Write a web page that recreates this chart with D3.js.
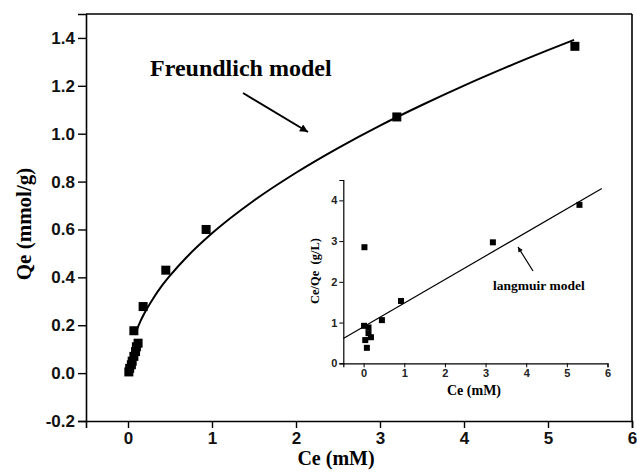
<!DOCTYPE html>
<html><head><meta charset="utf-8">
<script src="https://cdn.jsdelivr.net/npm/d3@7"></script>
<style>body{margin:0;background:#fff}svg{display:block}</style>
</head><body>
<script>
// ---- data ----
const ceMain = [0.01,0.02,0.04,0.05,0.07,0.09,0.10,0.12,0.07,0.18,0.45,0.93,3.20,5.32];
const qeMain = [0.005,0.02,0.035,0.05,0.07,0.09,0.11,0.125,0.177,0.278,0.43,0.60,1.07,1.365];
const fitCe = [0.083,0.1,0.15,0.2,0.3,0.4,0.5,0.7,1,1.5,2,2.5,3,3.5,4,4.5,5,5.31];
const fitQe = [0.160,0.176,0.218,0.253,0.312,0.363,0.407,0.485,0.584,0.721,0.837,0.940,1.034,1.120,1.201,1.277,1.349,1.392];
const ceInset = [0.02,0.01,0.04,0.08,0.12,0.12,0.18,0.45,0.92,3.18,5.31];
const ratioInset = [2.85,0.92,0.57,0.38,0.74,0.88,0.64,1.06,1.53,2.97,3.89];
const lineCe = [-0.5,5.86];
const lineRatio = [0.61,4.29];
const xTicksMain = [0,1,2,3,4,5,6];
const yTicksMain = [-0.2,0.0,0.2,0.4,0.6,0.8,1.0,1.2,1.4];
const xTicksInset = [0,1,2,3,4,5,6];
const yTicksInset = [0,1,2,3,4];

const W=637,H=472;
const svg=d3.select("body").append("svg").attr("width",W).attr("height",H);
const defs=svg.append("defs");
defs.append("marker").attr("id","ah").attr("viewBox","0 0 10 10").attr("refX",10).attr("refY",5)
 .attr("markerWidth",11).attr("markerHeight",8).attr("markerUnits","userSpaceOnUse").attr("orient","auto")
 .append("path").attr("d","M0,0L10,5L0,10z").attr("fill","#000");
defs.append("marker").attr("id","ah2").attr("viewBox","0 0 10 10").attr("refX",10).attr("refY",5)
 .attr("markerWidth",7).attr("markerHeight",5).attr("markerUnits","userSpaceOnUse").attr("orient","auto")
 .append("path").attr("d","M0,0L10,5L0,10z").attr("fill","#000");

const sans="Arial, 'Liberation Sans', sans-serif";
const serif="'Times New Roman', 'Liberation Serif', serif";

// ---- main plot ----
const L=86,T=14,R=632,B=421;
const x=d3.scaleLinear().domain([-0.5,6]).range([L,R]);
const y=d3.scaleLinear().domain([-0.2,1.5]).range([B,T]);
const fmt=v=>v.toFixed(1).replace("\u2212","-");

const xMinor=d3.range(-0.5,6.01,0.5).filter(v=>Math.abs(v-Math.round(v))>0.01);
const yMinor=d3.range(-0.1,1.45,0.2);
const gx=svg.append("g").attr("transform",`translate(0,${B})`);
gx.call(d3.axisBottom(x).tickValues(xMinor).tickSize(4).tickFormat(""));
gx.call(d3.axisBottom(x).tickValues(xTicksMain).tickSize(7).tickPadding(4).tickFormat(d3.format("d")));
const gy=svg.append("g").attr("transform",`translate(${L},0)`);
gy.call(d3.axisLeft(y).tickValues(yMinor).tickSize(5).tickFormat(""));
gy.call(d3.axisLeft(y).tickValues(yTicksMain).tickSize(8).tickPadding(3).tickFormat(fmt));
[gx,gy].forEach(g=>{
  g.selectAll("path.domain").attr("stroke","#000").attr("stroke-width",1.6);
  g.selectAll("line").attr("stroke","#000").attr("stroke-width",1.4);
  g.selectAll("text").attr("font-family",sans).attr("font-weight","bold").attr("font-size",17).attr("fill","#111");
});
svg.append("line").attr("x1",L).attr("x2",R).attr("y1",T).attr("y2",T).attr("stroke","#000").attr("stroke-width",1.6);
svg.append("line").attr("x1",R).attr("x2",R).attr("y1",T).attr("y2",B).attr("stroke","#000").attr("stroke-width",1.6);

const fitData=fitCe.map((c,i)=>[c,fitQe[i]]);
svg.append("path").datum(fitData).attr("fill","none").attr("stroke","#000").attr("stroke-width",2)
 .attr("d",d3.line().x(d=>x(d[0])).y(d=>y(d[1])).curve(d3.curveMonotoneX));
const ms=9;
svg.append("g").selectAll("rect").data(ceMain.map((c,i)=>[c,qeMain[i]])).join("rect")
 .attr("x",d=>x(d[0])-ms/2).attr("y",d=>y(d[1])-ms/2).attr("width",ms).attr("height",ms).attr("fill","#000");

svg.append("text").attr("x",336).attr("y",465).attr("text-anchor","middle")
 .attr("font-family",serif).attr("font-weight","bold").attr("font-size",20).text("Ce (mM)");
svg.append("text").attr("transform","translate(31,224) rotate(-90)").attr("text-anchor","middle")
 .attr("font-family",serif).attr("font-weight","bold").attr("font-size",21).text("Qe (mmol/g)");
svg.append("text").attr("x",150).attr("y",76)
 .attr("font-family",serif).attr("font-weight","bold").attr("font-size",24).text("Freundlich model");
svg.append("line").attr("x1",243).attr("y1",93).attr("x2",308).attr("y2",132)
 .attr("stroke","#000").attr("stroke-width",2).attr("marker-end","url(#ah)");

// ---- inset ----
const iL=343.3,iR=607.5,iT=180,iB=363.3;
const xi=d3.scaleLinear().domain([-0.5,6]).range([iL,iR]);
const yi=d3.scaleLinear().domain([0,4.5]).range([iB,iT]);
const gxi=svg.append("g").attr("transform",`translate(0,${iB})`);
gxi.call(d3.axisBottom(xi).tickValues(d3.range(-0.5,6.01,1)).tickSize(3).tickFormat(""));
gxi.call(d3.axisBottom(xi).tickValues(xTicksInset).tickSize(4).tickPadding(2).tickFormat(d3.format("d")));
const gyi=svg.append("g").attr("transform",`translate(${iL},0)`);
gyi.call(d3.axisLeft(yi).tickValues(d3.range(0.5,4.51,1)).tickSize(3).tickFormat(""));
gyi.call(d3.axisLeft(yi).tickValues(yTicksInset).tickSize(4).tickPadding(2).tickFormat(d3.format("d")));
[gxi,gyi].forEach(g=>{
  g.selectAll("path.domain").attr("stroke","#000").attr("stroke-width",1.2);
  g.selectAll("line").attr("stroke","#000").attr("stroke-width",1);
  g.selectAll("text").attr("font-family",sans).attr("font-weight","bold").attr("font-size",11).attr("fill","#222");
});
svg.append("path").datum(lineCe.map((c,i)=>[c,lineRatio[i]])).attr("fill","none").attr("stroke","#000").attr("stroke-width",1.2)
 .attr("d",d3.line().x(d=>xi(d[0])).y(d=>yi(d[1])));
const ms2=6;
svg.append("g").selectAll("rect").data(ceInset.map((c,i)=>[c,ratioInset[i]])).join("rect")
 .attr("x",d=>xi(d[0])-ms2/2).attr("y",d=>yi(d[1])-ms2/2).attr("width",ms2).attr("height",ms2).attr("fill","#000");
svg.append("text").attr("x",474).attr("y",395).attr("text-anchor","middle")
 .attr("font-family",serif).attr("font-weight","bold").attr("font-size",14).text("Ce (mM)");
svg.append("text").attr("transform","translate(319,271) rotate(-90)").attr("text-anchor","middle")
 .attr("font-family",serif).attr("font-weight","bold").attr("font-size",12.5).attr("xml:space","preserve").text("Ce/Qe  (g/L)");
svg.append("text").attr("x",493).attr("y",290)
 .attr("font-family",serif).attr("font-weight","bold").attr("font-size",13.5).text("langmuir model");
svg.append("line").attr("x1",533).attr("y1",271).attr("x2",518).attr("y2",247)
 .attr("stroke","#000").attr("stroke-width",1.2).attr("marker-end","url(#ah2)");
</script>
</body></html>
